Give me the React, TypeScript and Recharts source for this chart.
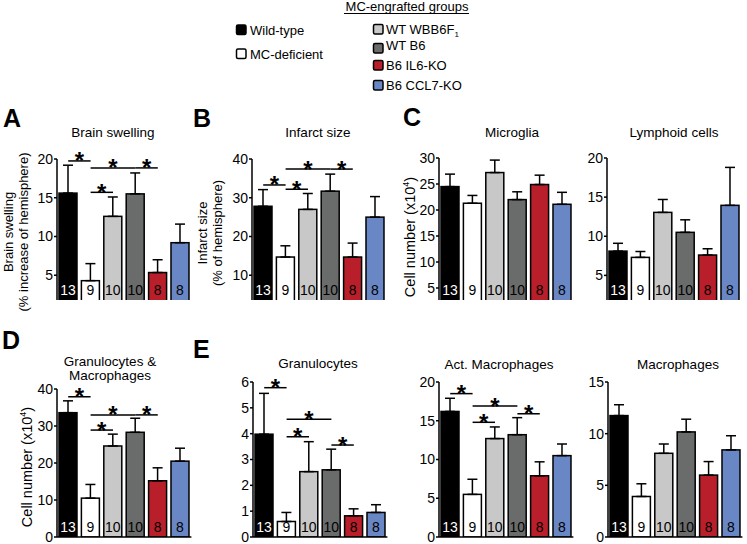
import React from 'react';
import { BarChart, Bar, XAxis, YAxis, ErrorBar, ReferenceLine } from 'recharts';

const FONT = '"Liberation Sans", Arial, Helvetica, sans-serif';

// ---- groups ----
const groups = ['Wild-type', 'MC-deficient', 'WT WBB6F1', 'WT B6', 'B6 IL6-KO', 'B6 CCL7-KO'];
const groupFill = ['#000000', '#ffffff', '#c8c8c8', '#6a6b6b', '#b81f2a', '#6a87c5'];
const countFill = ['#ffffff', '#000000', '#000000', '#000000', '#000000', '#000000'];
const nPerGroup = [13, 9, 10, 10, 8, 8];

// ---- A: brain swelling ----
const brainSwellingMean = [15.6, 4.3, 12.6, 15.5, 5.35, 9.2];
const brainSwellingSem = [3.6, 2.2, 2.5, 2.7, 1.65, 2.4];
const brainSwellingSig: [number, number, number][] = [[0, 1, 19.75], [1, 3, 18.85], [3, 4, 18.85], [1, 2, 15.7]];
const brainSwellingTicks = [5, 10, 15, 20];

// ---- B: infarct size ----
const infarctMean = [27.8, 14.7, 27.0, 31.7, 14.7, 25.0];
const infarctSem = [4.3, 2.9, 4.1, 4.4, 3.6, 5.3];
const infarctSig: [number, number, number][] = [[0, 1, 33.3], [1, 2, 32.2], [1, 3, 37.4], [3, 4, 37.4]];
const infarctTicks = [10, 20, 30, 40];

// ---- C: microglia ----
const microgliaMean = [24.5, 21.3, 27.2, 22.0, 24.9, 21.1];
const microgliaSem = [2.4, 1.5, 2.4, 1.5, 1.8, 2.3];
const microgliaTicks = [5, 10, 15, 20, 25, 30];

// ---- C: lymphoid cells ----
const lymphoidMean = [8.1, 7.3, 13.05, 10.5, 7.6, 13.95];
const lymphoidSem = [1.0, 0.75, 1.65, 1.6, 0.8, 4.85];
const lymphoidTicks = [5, 10, 15, 20];

// ---- D: granulocytes & macrophages ----
const granMacMean = [33.6, 10.5, 24.6, 28.3, 15.2, 20.5];
const granMacSem = [3.2, 3.7, 3.2, 3.8, 3.5, 3.5];
const granMacSig: [number, number, number][] = [[0, 1, 37.9], [1, 3, 33.0], [3, 4, 33.0], [1, 2, 28.9]];
const granMacTicks = [0, 10, 20, 30, 40];

// ---- E: granulocytes ----
const granulocyteMean = [3.98, 0.6, 2.53, 2.6, 0.82, 0.95];
const granulocyteSem = [1.58, 0.35, 1.16, 0.8, 0.27, 0.3];
const granulocyteSig: [number, number, number][] = [[0, 1, 5.78], [1, 3, 4.56], [1, 2, 3.88], [3, 4, 3.56]];
const granulocyteTicks = [0, 1, 2, 3, 4, 5, 6];

// ---- E: activated macrophages ----
const actMacMean = [16.2, 5.5, 12.7, 13.2, 7.9, 10.5];
const actMacSem = [1.7, 1.95, 1.5, 2.2, 1.8, 1.5];
const actMacSig: [number, number, number][] = [[0, 1, 18.5], [1, 3, 16.9], [1, 2, 14.8], [3, 4, 15.9]];
const actMacTicks = [0, 5, 10, 15, 20];

// ---- E: macrophages ----
const macMean = [11.75, 3.92, 8.1, 10.17, 5.99, 8.43];
const macSem = [1.05, 1.23, 0.9, 1.23, 1.31, 1.37];
const macTicks = [0, 5, 10, 15];

function Star(props: any) {
  const vb = props.viewBox || {};
  const cx = (vb.x ?? 0) + (vb.width ?? 0) / 2;
  return (
    <text x={cx} y={(vb.y ?? 0) + 8.5} textAnchor="middle" fontSize={24} fontWeight="bold" fontFamily={FONT} fill="#000">
      *
    </text>
  );
}

type PanelProps = {
  x: number;
  top: number;
  zero: number;
  clip?: number;
  mean: number[];
  sem: number[];
  sig?: [number, number, number][];
  ticks: number[];
  countOffset: number;
};

function Panel(p: PanelProps) {
  const yW = 45;
  const mTop = 16;
  const mBottom = 9;
  const mRight = 6;
  const plotW = 134.4;
  const plotH = p.zero - p.top;
  const chartW = yW + plotW + mRight;
  const chartH = mTop + plotH + 1 + mBottom;
  const left = p.x - yW;
  const chartTop = p.top - mTop;
  const viewH = p.clip ? p.clip - chartTop : chartH;
  const max = p.ticks[p.ticks.length - 1];
  const data = groups.map((g, i) => ({
    group: g,
    mean: p.mean[i],
    err: [0, p.sem[i]],
    n: nPerGroup[i],
    fill: groupFill[i],
    countFill: countFill[i],
  }));
  const shape = (s: any) => {
    const { x, y, width, height } = s;
    const d = (s.payload && s.payload.fill ? s.payload : data[s.index]) || data[0];
    return (
      <g>
        <rect x={x} y={y} width={width} height={height} fill={d.fill} stroke="#000" strokeWidth={1.5} />
        <text
          x={x + width / 2}
          y={y + height - p.countOffset}
          textAnchor="middle"
          fontSize={14}
          fontFamily={FONT}
          fill={d.countFill}
        >
          {d.n}
        </text>
      </g>
    );
  };
  return (
    <div style={{ position: 'absolute', left, top: chartTop, width: chartW, height: viewH, overflow: 'hidden' }}>
      <BarChart
        width={chartW}
        height={chartH}
        data={data}
        margin={{ top: mTop, right: mRight, bottom: mBottom, left: 0 }}
        barSize={18}
        style={{ overflow: 'visible' }}
      >
        <XAxis
          dataKey="group"
          height={1}
          tick={false}
          tickLine={false}
          axisLine={p.clip ? false : { stroke: '#000', strokeWidth: 1.5 }}
        />
        <YAxis
          width={yW}
          domain={[0, max]}
          ticks={p.ticks}
          interval={0}
          allowDataOverflow
          tickSize={3}
          tickMargin={1}
          axisLine={{ stroke: '#000', strokeWidth: 1.5 }}
          tickLine={{ stroke: '#000', strokeWidth: 1.5 }}
          tick={{ fill: '#000', fontSize: 14, fontFamily: FONT }}
        />
        <Bar dataKey="mean" isAnimationActive={false} shape={shape}>
          <ErrorBar dataKey="err" direction="y" width={5} stroke="#000" strokeWidth={1.5} isAnimationActive={false} />
        </Bar>
        {(p.sig || []).map(([a, b, yv], k) => (
          <ReferenceLine
            key={k}
            segment={[{ x: groups[a], y: yv }, { x: groups[b], y: yv }]}
            stroke="#000"
            strokeWidth={1.5}
            ifOverflow="visible"
            label={<Star />}
          />
        ))}
      </BarChart>
    </div>
  );
}

const T = (props: any) => <text fontFamily={FONT} fill="#000" {...props} />;

function Overlay() {
  return (
    <svg
      width={747}
      height={544}
      style={{ position: 'absolute', left: 0, top: 0, pointerEvents: 'none' }}
    >
      {/* legend */}
      <T x={407} y={10.5} fontSize={13} textAnchor="middle">MC-engrafted groups</T>
      <line x1={344} x2={469} y1={13.5} y2={13.5} stroke="#000" strokeWidth={1} />
      <rect x={236.5} y={25} width={9.5} height={9.5} rx={1.5} fill="#000" stroke="#000" strokeWidth={1.5} />
      <T x={250} y={34.5} fontSize={13}>Wild-type</T>
      <rect x={236.5} y={49} width={9.5} height={9.5} rx={1.5} fill="#fff" stroke="#000" strokeWidth={1.5} />
      <T x={250} y={58.5} fontSize={13}>MC-deficient</T>

      <rect x={373.5} y={24.5} width={9.5} height={9.5} rx={1.5} fill={groupFill[2]} stroke="#000" strokeWidth={1.5} />
      <T x={386} y={33.5} fontSize={13}>
        WT WBB6F<tspan fontSize={8} dy={3}>1</tspan>
      </T>
      <rect x={373.5} y={43.5} width={9.5} height={9.5} rx={1.5} fill={groupFill[3]} stroke="#000" strokeWidth={1.5} />
      <T x={386} y={50} fontSize={13}>WT B6</T>
      <rect x={373.5} y={60.5} width={9.5} height={9.5} rx={1.5} fill={groupFill[4]} stroke="#000" strokeWidth={1.5} />
      <T x={386} y={69.5} fontSize={13}>B6 IL6-KO</T>
      <rect x={373.5} y={80.5} width={9.5} height={9.5} rx={1.5} fill={groupFill[5]} stroke="#000" strokeWidth={1.5} />
      <T x={386} y={89.5} fontSize={13}>B6 CCL7-KO</T>

      {/* panel letters */}
      <T x={3} y={127} fontSize={25} fontWeight="bold">A</T>
      <T x={193} y={127} fontSize={25} fontWeight="bold">B</T>
      <T x={403} y={126} fontSize={25} fontWeight="bold">C</T>
      <T x={2} y={349} fontSize={25} fontWeight="bold">D</T>
      <T x={193} y={358} fontSize={25} fontWeight="bold">E</T>

      {/* titles */}
      <T x={113} y={137} fontSize={13.5} textAnchor="middle">Brain swelling</T>
      <T x={318} y={137} fontSize={13.5} textAnchor="middle">Infarct size</T>
      <T x={512} y={137} fontSize={13.5} textAnchor="middle">Microglia</T>
      <T x={674} y={137} fontSize={13.5} textAnchor="middle">Lymphoid cells</T>
      <T x={110} y={366} fontSize={13.5} textAnchor="middle">Granulocytes &amp;</T>
      <T x={110} y={380} fontSize={13.5} textAnchor="middle">Macrophages</T>
      <T x={318} y={368} fontSize={13.5} textAnchor="middle">Granulocytes</T>
      <T x={499} y={369} fontSize={13.5} textAnchor="middle">Act. Macrophages</T>
      <T x={678} y={369} fontSize={13.5} textAnchor="middle">Macrophages</T>

      {/* y-axis labels */}
      <T transform="translate(13,232) rotate(-90)" fontSize={13} textAnchor="middle">Brain swelling</T>
      <T transform="translate(28,232) rotate(-90)" fontSize={13} textAnchor="middle">(% increase of hemisphere)</T>
      <T transform="translate(207,233) rotate(-90)" fontSize={13} textAnchor="middle">Infarct size</T>
      <T transform="translate(222,233) rotate(-90)" fontSize={13} textAnchor="middle">(% of hemisphere)</T>
      <T transform="translate(415,237) rotate(-90)" fontSize={14.5} textAnchor="middle">
        Cell number (x10<tspan fontSize={9} dy={-6}>4</tspan><tspan dy={6}>)</tspan>
      </T>
      <T transform="translate(32,467) rotate(-90)" fontSize={14.5} textAnchor="middle">
        Cell number (x10<tspan fontSize={9} dy={-6}>4</tspan><tspan dy={6}>)</tspan>
      </T>
    </svg>
  );
}

export default function App() {
  return (
    <div style={{ position: 'absolute', left: 0, top: 0, width: 747, height: 544, background: '#fff', overflow: 'hidden' }}>
      <Panel x={57} top={159} zero={314} clip={300} mean={brainSwellingMean} sem={brainSwellingSem} sig={brainSwellingSig} ticks={brainSwellingTicks} countOffset={19} />
      <Panel x={252} top={159} zero={314} clip={300} mean={infarctMean} sem={infarctSem} sig={infarctSig} ticks={infarctTicks} countOffset={19} />
      <Panel x={439} top={158} zero={314} clip={300} mean={microgliaMean} sem={microgliaSem} ticks={microgliaTicks} countOffset={19} />
      <Panel x={607} top={157.5} zero={314} clip={300} mean={lymphoidMean} sem={lymphoidSem} ticks={lymphoidTicks} countOffset={19} />
      <Panel x={57} top={389} zero={537} mean={granMacMean} sem={granMacSem} sig={granMacSig} ticks={granMacTicks} countOffset={4.5} />
      <Panel x={253} top={382} zero={537} mean={granulocyteMean} sem={granulocyteSem} sig={granulocyteSig} ticks={granulocyteTicks} countOffset={4.5} />
      <Panel x={439} top={382} zero={537} mean={actMacMean} sem={actMacSem} sig={actMacSig} ticks={actMacTicks} countOffset={4.5} />
      <Panel x={608} top={382} zero={537} mean={macMean} sem={macSem} ticks={macTicks} countOffset={4.5} />
      <Overlay />
    </div>
  );
}
